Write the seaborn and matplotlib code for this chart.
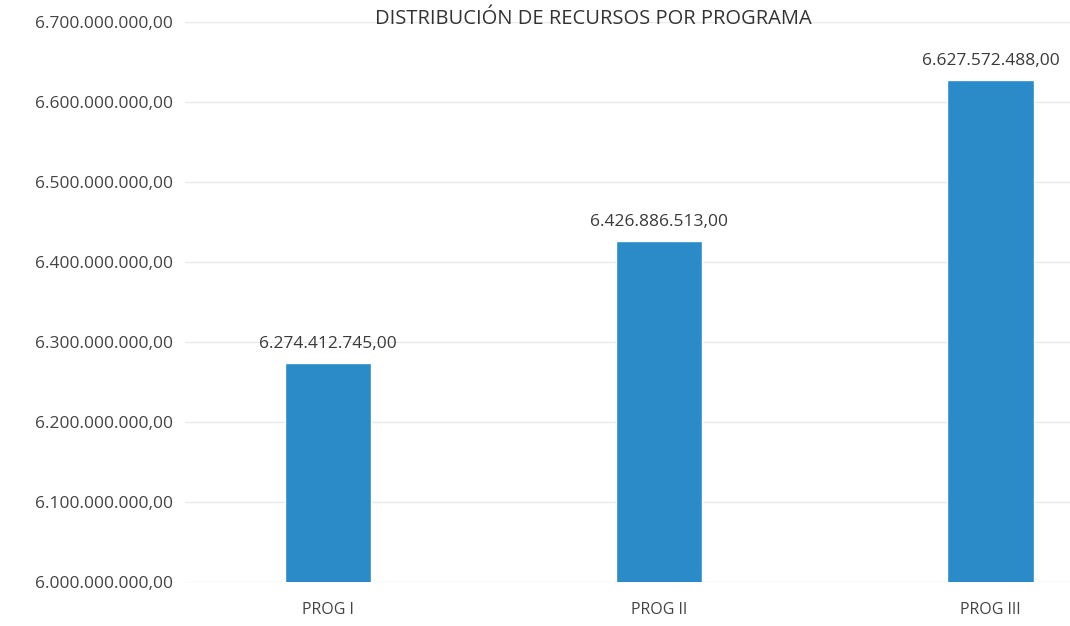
import pandas as pd
import matplotlib.pyplot as plt
import seaborn as sns
from matplotlib.ticker import FuncFormatter

programas = ["PROG I", "PROG II", "PROG III"]
recursos = [6274412745.00, 6426886513.00, 6627572488.00]
titulo = "DISTRIBUCIÓN DE RECURSOS POR PROGRAMA"

df = pd.DataFrame({"Programa": programas, "Recursos": recursos})


def formato_es(v, pos=None):
    s = f"{v:,.2f}"
    return s.replace(",", "X").replace(".", ",").replace("X", ".")


sns.set_style("white")
plt.rcParams["font.family"] = ["Open Sans", "DejaVu Sans"]

fig = plt.figure(figsize=(10.7, 6.26), dpi=100)
ax = fig.add_axes([0.173, 0.07, 0.827, 0.895])

sns.barplot(x="Programa", y="Recursos", data=df, color="#2A8BC8",
            width=0.26, saturation=1, ax=ax)

ax.set_ylim(6.0e9, 6.7e9)
ax.set_xlim(-0.43, 2.24)
ax.set_yticks([6.0e9 + i * 1e8 for i in range(8)])
ax.yaxis.set_major_formatter(FuncFormatter(formato_es))
ax.grid(axis="y", color="#e6e9ee", linewidth=1)
ax.set_axisbelow(True)
for s in ax.spines.values():
    s.set_visible(False)
ax.set_xlabel("")
ax.set_ylabel("")
ax.tick_params(axis="y", labelsize=12.5, labelcolor="#444444", length=0, pad=9)
ax.tick_params(axis="x", labelsize=11.5, labelcolor="#444444", length=0, pad=14)

for i, v in enumerate(recursos):
    ax.text(i, v + 1.3e7, formato_es(v), ha="center", va="bottom",
            fontsize=12.5, color="#3a3a3a")

fig.text(0.555, 0.962, titulo, ha="center", va="baseline", fontsize=14.5,
         color="#333333")

fig.savefig("out.png", dpi=100)
